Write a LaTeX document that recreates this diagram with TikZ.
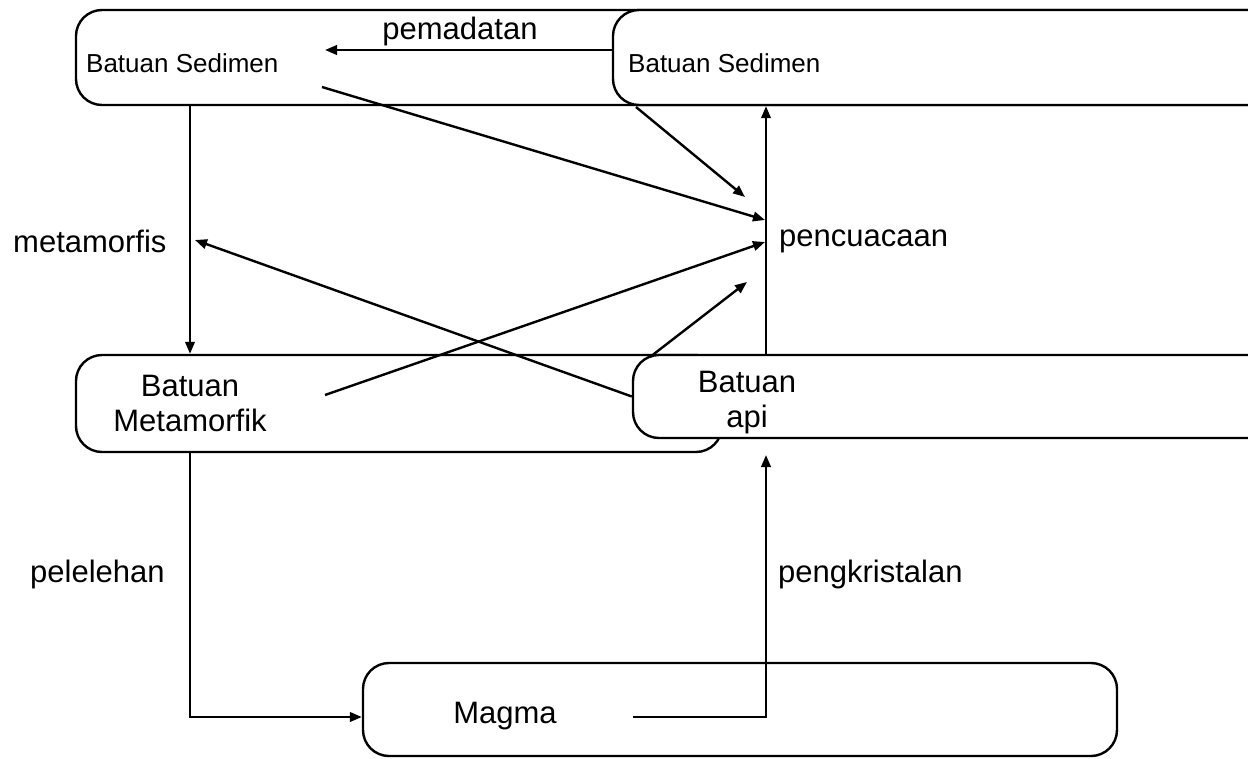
\documentclass[tikz,border=0pt]{standalone}
\usepackage{fontspec}
\setmainfont{Liberation Sans}
\usetikzlibrary{arrows.meta,positioning}

\begin{document}
\begin{tikzpicture}[
  x=1pt, y=-1pt,
  >={Triangle[length=12pt,width=9.5pt]},
  signal/.style={->, draw=black, line width=2.4pt},
  wire/.style={draw=black, line width=2.4pt},
  rock/.style={
    draw=black, fill=white, line width=2.4pt,
    rounded corners=26pt, inner sep=0pt
  },
  rockText/.style={font=\fontsize{31}{35}\selectfont, align=center, inner sep=0pt},
  smallText/.style={font=\fontsize{26}{30}\selectfont, inner sep=0pt},
  annotation/.style={font=\fontsize{31}{35}\selectfont, inner sep=0pt}
]
\useasboundingbox (0,0) rectangle (1248,758);
\clip (0,0) rectangle (1248,758);

% Rock boxes (the right ones run off the page).
\node[rock, minimum width=1200pt, minimum height=95pt] (sedimenKiri) at (676,57.5) {};
\node[rock, minimum width=663pt, minimum height=95pt] (sedimenKanan) at (944.5,57.5) {};
\node[rock, minimum width=646pt, minimum height=97pt] (metamorfik) at (399,403.5) {};
\node[rock, minimum width=643pt, minimum height=83pt] (api) at (954.5,396.5) {};
\node[rock, minimum width=754pt, minimum height=93pt] (magma) at (740,709.5) {};

% Box texts.
\node[smallText, anchor=west] (sedimenKiriText) at (86,63) {Batuan Sedimen};
\node[smallText, anchor=west] (sedimenKananText) at (628,63) {Batuan Sedimen};
\node[rockText] (metamorfikText) at (190,403) {Batuan\\Metamorfik};
\node[rockText] (apiText) at (747,403) {Batuan\\api};
\node[rockText] (magmaText) at (505,716) {Magma};

% Free ends of the connectors.
\coordinate (padatUjung) at (325,50);
\coordinate (cuacaX) at (766,240);
\coordinate (sedimenAwal) at (322,87);
\coordinate (sedimenUjung) at (765,220);
\coordinate (sudutAwal) at (636,107);
\coordinate (sudutUjung) at (745,197);
\coordinate (metaAwal) at (325,395);
\coordinate (metaUjung) at (765,242);
\coordinate (apiAwal) at (650,357);
\coordinate (apiUjung) at (747,282);
\coordinate (turunX) at (190,240);
\coordinate (metamorfisUjung) at (195,240);
\coordinate (lelehY) at (190,717);
\coordinate (magmaAwal) at (633,717);
\coordinate (kristalUjung) at (766,455);

% Compaction.
\draw[signal] (sedimenKanan.west |- padatUjung) -- (padatUjung);
\node[annotation] (pemadatan) at (460,31) {pemadatan};

% Weathering.
\draw[signal] (sedimenAwal) -- (sedimenUjung);
\draw[signal] (sudutAwal) -- (sudutUjung);
\draw[signal] (metaAwal) -- (metaUjung);
\draw[signal] (apiAwal) -- (apiUjung);
\draw[signal] (api.north -| cuacaX) -- (sedimenKanan.south -| cuacaX);
\node[annotation, anchor=west] (pencuacaan) at (779,241) {pencuacaan};

% Metamorphism.
\draw[signal] (sedimenKiri.south -| turunX) -- (metamorfik.north -| turunX);
\draw[signal] (api.west) -- (metamorfisUjung);
\node[annotation, anchor=west] (metamorfis) at (13,241) {metamorfis};

% Melting and crystallisation.
\draw[signal] (metamorfik.south -| turunX) -- (lelehY) -- (magma.west |- lelehY);
\node[annotation, anchor=west] (pelelehan) at (30,574) {pelelehan};
\draw[signal] (magmaAwal) -| (kristalUjung);
\node[annotation, anchor=west] (pengkristalan) at (778,574) {pengkristalan};

\end{tikzpicture}
\end{document}
